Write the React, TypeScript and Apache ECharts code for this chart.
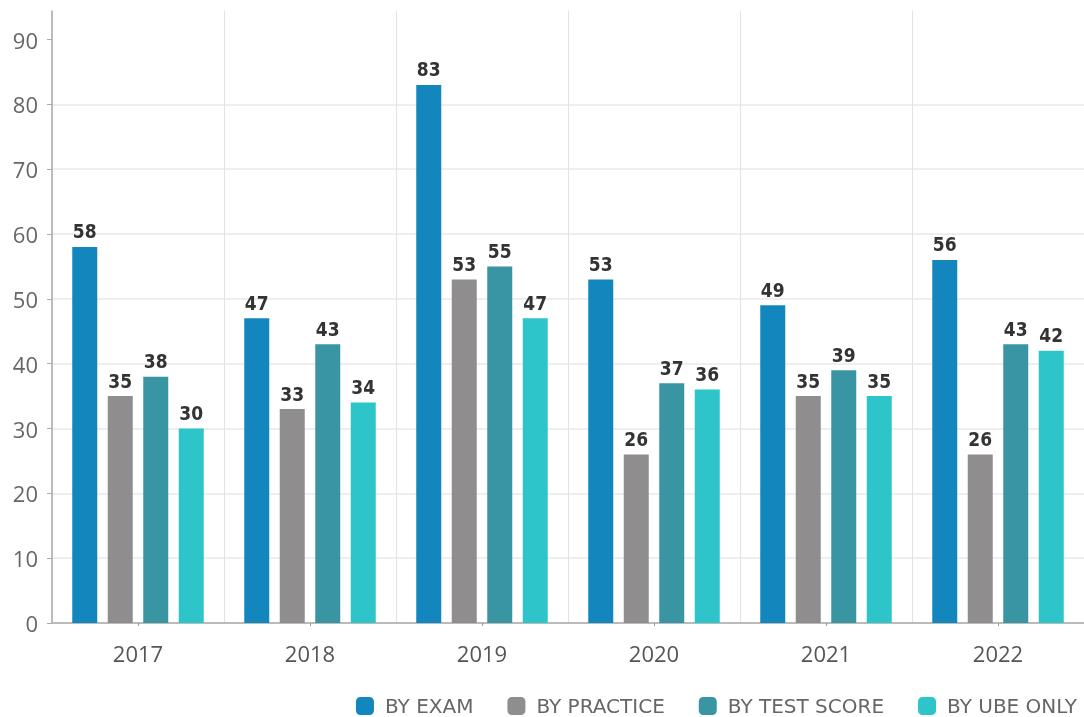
import React, { useEffect, useRef } from "react";
import * as echarts from "echarts";

const years = ["2017", "2018", "2019", "2020", "2021", "2022"];
const seriesNames = ["BY EXAM", "BY PRACTICE", "BY TEST SCORE", "BY UBE ONLY"];
const byExam = [58, 47, 83, 53, 49, 56];
const byPractice = [35, 33, 53, 26, 35, 26];
const byTestScore = [38, 43, 55, 37, 39, 43];
const byUbeOnly = [30, 34, 47, 36, 35, 42];
const yTicks = [0, 10, 20, 30, 40, 50, 60, 70, 80, 90];
const colors = ["#1386bd", "#8f8d8e", "#3a95a3", "#2dc5c9"];

export default function App() {
  const ref = useRef<HTMLDivElement>(null);
  useEffect(() => {
    document.body.style.margin = "0";
    document.body.style.overflow = "hidden";
    const chart = echarts.init(ref.current!, null, { renderer: "svg" });
    const values = [byExam, byPractice, byTestScore, byUbeOnly];
    chart.setOption({
      animation: false,
      color: colors,
      grid: { left: 52, right: -6, top: 11, bottom: 94, containLabel: false },
      legend: {
        data: seriesNames,
        right: 2,
        top: 691,
        itemWidth: 18,
        itemHeight: 18,
        itemGap: 34,
        icon: "roundRect",
        textStyle: {
          fontFamily: "'DejaVu Sans', sans-serif",
          fontSize: 20,
          color: "#666",
          padding: [0, 0, 0, 6],
        },
      },
      xAxis: {
        type: "category",
        data: years,
        axisLine: { lineStyle: { color: "#aaa", width: 1.5 } },
        axisTick: { show: true, alignWithLabel: true, length: 3, lineStyle: { color: "#999" } },
        axisLabel: { margin: 19, fontSize: 22, color: "#555", fontFamily: "'Open Sans', sans-serif" },
        splitLine: { show: true, lineStyle: { color: "#e2e2e2", width: 1 } },
      },
      yAxis: {
        type: "value",
        min: 0,
        max: 94.4,
        interval: 10,
        axisLine: { show: true, lineStyle: { color: "#aaa", width: 1.5 } },
        axisTick: { show: true, length: 5, customValues: yTicks, lineStyle: { color: "#aaa" } },
        axisLabel: {
          margin: 14,
          fontSize: 22,
          color: "#666",
          fontFamily: "'Open Sans', sans-serif",
          customValues: yTicks,
        },
        splitLine: { show: true, showMaxLine: false, lineStyle: { color: "#e8e8e8", width: 1.5 } },
      },
      series: seriesNames.map((name, i) => ({
        name,
        type: "bar",
        data: values[i],
        barWidth: 25,
        barGap: "42%",
        itemStyle: { color: colors[i] },
        label: {
          show: true,
          position: "top",
          distance: 6,
          fontFamily: "'DejaVu Sans Condensed', sans-serif",
          fontWeight: "bold",
          fontSize: 19,
          color: "#333",
        },
      })),
    });
    return () => chart.dispose();
  }, []);
  return <div ref={ref} style={{ position: "fixed", left: 0, top: 0, width: 1084, height: 717 }} />;
}
